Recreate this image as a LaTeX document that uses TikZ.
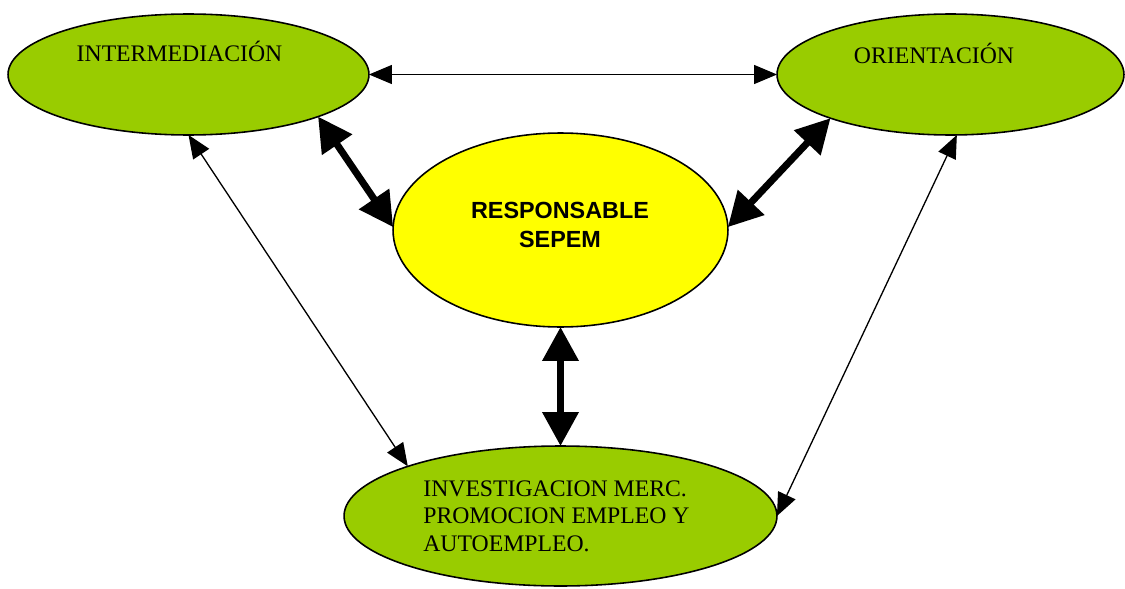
\documentclass[tikz,border=0pt]{standalone}
\usepackage{fontspec}
\setmainfont{Liberation Serif}
\setsansfont{Liberation Sans}
\usetikzlibrary{shapes.geometric}
\usetikzlibrary{arrows.meta}
\usetikzlibrary{calc}
\usepackage{xcolor}
\definecolor{verde}{HTML}{99CC00}
\definecolor{amarillo}{HTML}{FFFF00}

\begin{document}
\begin{tikzpicture}[x=0.02cm,y=-0.02cm,
  elip/.style={ellipse, draw, line width=0.9pt, outer sep=0pt, inner sep=0pt},
  fino/.style={line width=0.75pt, {Triangle[length=0.46cm,width=0.38cm]}-{Triangle[length=0.46cm,width=0.38cm]}},
  grueso/.style={line width=0.14cm, {Triangle[length=0.68cm,width=0.7cm]}-{Triangle[length=0.68cm,width=0.7cm]}},
  txt/.style={font=\fontsize{13.5}{15.4}\selectfont, inner sep=0pt}]
\useasboundingbox (0,0) rectangle (1125,588);
% ellipses
\node[elip, fill=verde, minimum width=7.22cm, minimum height=2.42cm] (inter) at (188.5,74.5) {};
\node[elip, fill=verde, minimum width=6.94cm, minimum height=2.42cm] (orient) at (950.5,74.5) {};
\node[elip, fill=amarillo, minimum width=6.7cm, minimum height=3.88cm] (resp) at (560.5,230) {};
\node[elip, fill=verde, minimum width=8.66cm, minimum height=2.8cm] (invest) at (560.5,516) {};
% texts
\node[txt, anchor=base] (tinter) at (179.5,61.7) {INTERMEDIACIÓN};
\node[txt, anchor=base] (torient) at (934,63.3) {ORIENTACIÓN};
\node[txt, font=\fontsize{13.3}{16.7}\selectfont\sffamily\bfseries, align=center, anchor=base] (tresp) at (560,247.7) {RESPONSABLE\\SEPEM};
\node[txt, align=left, anchor=base west] (tinvest) at (423,551) {INVESTIGACION MERC.\\PROMOCION EMPLEO Y\\AUTOEMPLEO.};
% connectors
\draw[fino] (inter.east) -- (orient.west);
\draw[grueso] (inter.-18.3) -- (resp.179);
\draw[grueso] (orient.-160.2) -- (resp.1);
\draw[grueso] (resp.south) -- (invest.north);
\draw[fino] (inter.south) -- (invest.162.3);
\draw[fino] (orient.-84) -- (invest.east);
\end{tikzpicture}
\end{document}
